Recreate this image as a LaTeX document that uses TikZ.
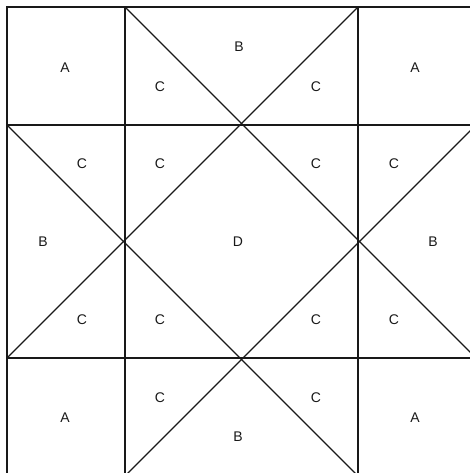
\documentclass[tikz,border=0pt]{standalone}
\usepackage{fontspec}
\setmainfont{Liberation Sans}
\begin{document}
\begin{tikzpicture}[x=1pt,y=-1pt,
  seam/.style={draw=black!90, line width=1.6pt},
  diag/.style={draw=black!90, line width=1.4pt},
  lbl/.style={font=\fontsize{14}{14}\selectfont, text=black!90, inner sep=0pt}]
\useasboundingbox (0,0) rectangle (470,473);
\clip (0,0) rectangle (470,473);
\fill[white] (0,0) rectangle (470,473);
% outer square and grid
\draw[seam] (7,7) rectangle (476,476);
\draw[seam] (125,7) -- (125,476);
\draw[seam] (358,7) -- (358,476);
\draw[seam] (7,125) -- (476,125);
\draw[seam] (7,358) -- (476,358);
% diagonals
\draw[diag] (125,7) -- (476,358);
\draw[diag] (358,7) -- (7,358);
\draw[diag] (7,125) -- (358,476);
\draw[diag] (476,125) -- (125,476);
% labels
\node[lbl] (a1) at (65,68) {A};
\node[lbl] (a2) at (415,68) {A};
\node[lbl] (a3) at (65,418) {A};
\node[lbl] (a4) at (415,418) {A};
\node[lbl] (b1) at (239,47) {B};
\node[lbl] (b2) at (43,242) {B};
\node[lbl] (b3) at (433,242) {B};
\node[lbl] (b4) at (238,437) {B};
\node[lbl] (d) at (238,242) {D};
\node[lbl] (c1) at (160,87) {C};
\node[lbl] (c2) at (316,87) {C};
\node[lbl] (c3) at (82,164) {C};
\node[lbl] (c4) at (160,164) {C};
\node[lbl] (c5) at (316,164) {C};
\node[lbl] (c6) at (394,164) {C};
\node[lbl] (c7) at (82,320) {C};
\node[lbl] (c8) at (160,320) {C};
\node[lbl] (c9) at (316,320) {C};
\node[lbl] (c10) at (394,320) {C};
\node[lbl] (c11) at (160,398) {C};
\node[lbl] (c12) at (316,398) {C};
\end{tikzpicture}
\end{document}
